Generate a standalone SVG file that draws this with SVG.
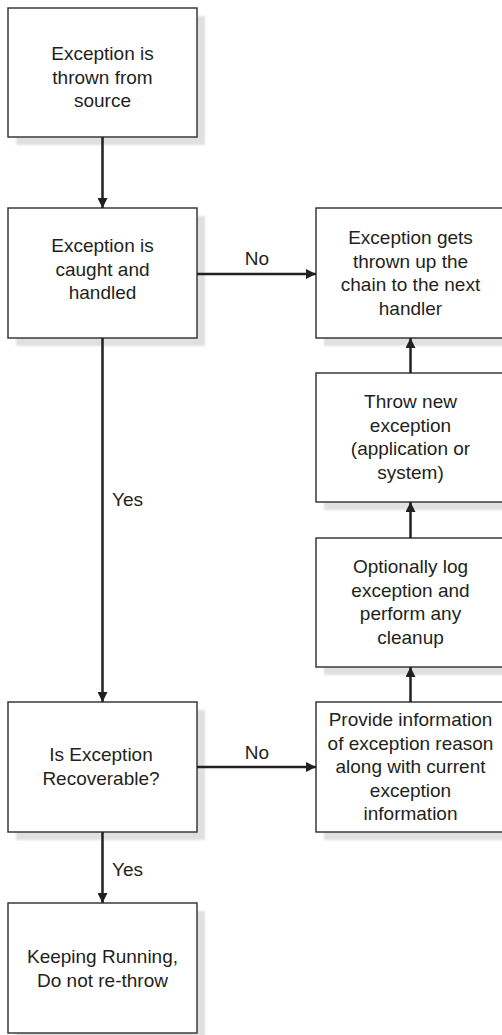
<svg xmlns="http://www.w3.org/2000/svg" width="502" height="1035" viewBox="0 0 502 1035">
  <style>
    .shadow { fill: #e0e0e0; }
    .box { fill: #ffffff; stroke: #3a3a3a; stroke-width: 1.5; }
    .label { font-family: "Liberation Sans", Arial, Helvetica, sans-serif; font-size: 19px; fill: #231f20; text-anchor: middle; }
    .edge-label { font-family: "Liberation Sans", Arial, Helvetica, sans-serif; font-size: 19px; fill: #231f20; }
    .edge { fill: none; stroke: #231f20; stroke-width: 2.5; }
  </style>
  <defs>
    <filter id="soft" x="-10%" y="-10%" width="120%" height="120%">
      <feGaussianBlur stdDeviation="1"/>
    </filter>
    <marker id="arrow" viewBox="0 0 10 10" refX="10" refY="5" markerWidth="4.4" markerHeight="4" markerUnits="strokeWidth" orient="auto">
      <path d="M0,0 L10,5 L0,10 Z" fill="#231f20"/>
    </marker>
  </defs>

  <rect width="502" height="1035" fill="#ffffff"/>

  <!-- left column -->
  <g id="thrown">
    <rect class="shadow" x="16" y="16" width="189" height="129" filter="url(#soft)"/>
    <rect class="box" x="8" y="8" width="189" height="129"/>
    <text class="label" x="102.5" y="60">Exception is</text>
    <text class="label" x="102.5" y="83.5">thrown from</text>
    <text class="label" x="102.5" y="107">source</text>
  </g>

  <g id="caught">
    <rect class="shadow" x="16" y="216" width="189" height="130" filter="url(#soft)"/>
    <rect class="box" x="8" y="208" width="189" height="130"/>
    <text class="label" x="102.5" y="252">Exception is</text>
    <text class="label" x="102.5" y="275.5">caught and</text>
    <text class="label" x="102.5" y="299">handled</text>
  </g>

  <g id="recoverable">
    <rect class="shadow" x="16" y="710" width="189" height="130" filter="url(#soft)"/>
    <rect class="box" x="8" y="702" width="189" height="130"/>
    <text class="label" x="101" y="761">Is Exception</text>
    <text class="label" x="101" y="785">Recoverable?</text>
  </g>

  <g id="keep-running">
    <rect class="shadow" x="16" y="911" width="189" height="130" filter="url(#soft)"/>
    <rect class="box" x="8" y="903" width="189" height="130"/>
    <text class="label" x="102.5" y="963">Keeping Running,</text>
    <text class="label" x="102.5" y="987">Do not re-throw</text>
  </g>

  <!-- right column -->
  <g id="thrown-up">
    <rect class="shadow" x="324" y="216" width="190" height="130" filter="url(#soft)"/>
    <rect class="box" x="316" y="208" width="190" height="130"/>
    <text class="label" x="410.5" y="244">Exception gets</text>
    <text class="label" x="410.5" y="267.5">thrown up the</text>
    <text class="label" x="410.5" y="291">chain to the next</text>
    <text class="label" x="410.5" y="314.5">handler</text>
  </g>

  <g id="throw-new">
    <rect class="shadow" x="324" y="381" width="190" height="129" filter="url(#soft)"/>
    <rect class="box" x="316" y="373" width="190" height="129"/>
    <text class="label" x="410.5" y="408">Throw new</text>
    <text class="label" x="410.5" y="431.5">exception</text>
    <text class="label" x="410.5" y="455">(application or</text>
    <text class="label" x="410.5" y="478.5">system)</text>
  </g>

  <g id="log-cleanup">
    <rect class="shadow" x="324" y="546" width="190" height="129" filter="url(#soft)"/>
    <rect class="box" x="316" y="538" width="190" height="129"/>
    <text class="label" x="410.5" y="573">Optionally log</text>
    <text class="label" x="410.5" y="596.5">exception and</text>
    <text class="label" x="410.5" y="620">perform any</text>
    <text class="label" x="410.5" y="643.5">cleanup</text>
  </g>

  <g id="provide-info">
    <rect class="shadow" x="324" y="710" width="190" height="130" filter="url(#soft)"/>
    <rect class="box" x="316" y="702" width="190" height="130"/>
    <text class="label" x="410.5" y="726">Provide information</text>
    <text class="label" x="410.5" y="749.5">of exception reason</text>
    <text class="label" x="410.5" y="773">along with current</text>
    <text class="label" x="410.5" y="796.5">exception</text>
    <text class="label" x="410.5" y="820">information</text>
  </g>

  <!-- connectors -->
  <g id="connectors">
    <line class="edge" x1="102.5" y1="137" x2="102.5" y2="208" marker-end="url(#arrow)"/>
    <line class="edge" x1="197" y1="274" x2="316" y2="274" marker-end="url(#arrow)"/>
    <line class="edge" x1="102.5" y1="338" x2="102.5" y2="702" marker-end="url(#arrow)"/>
    <line class="edge" x1="197" y1="767" x2="316" y2="767" marker-end="url(#arrow)"/>
    <line class="edge" x1="102.5" y1="832" x2="102.5" y2="903" marker-end="url(#arrow)"/>
    <line class="edge" x1="410.5" y1="702" x2="410.5" y2="667" marker-end="url(#arrow)"/>
    <line class="edge" x1="410.5" y1="538" x2="410.5" y2="502" marker-end="url(#arrow)"/>
    <line class="edge" x1="410.5" y1="373" x2="410.5" y2="338" marker-end="url(#arrow)"/>
    <text class="edge-label" x="257" y="265" text-anchor="middle">No</text>
    <text class="edge-label" x="112" y="506">Yes</text>
    <text class="edge-label" x="257" y="759" text-anchor="middle">No</text>
    <text class="edge-label" x="112" y="876">Yes</text>
  </g>
</svg>
